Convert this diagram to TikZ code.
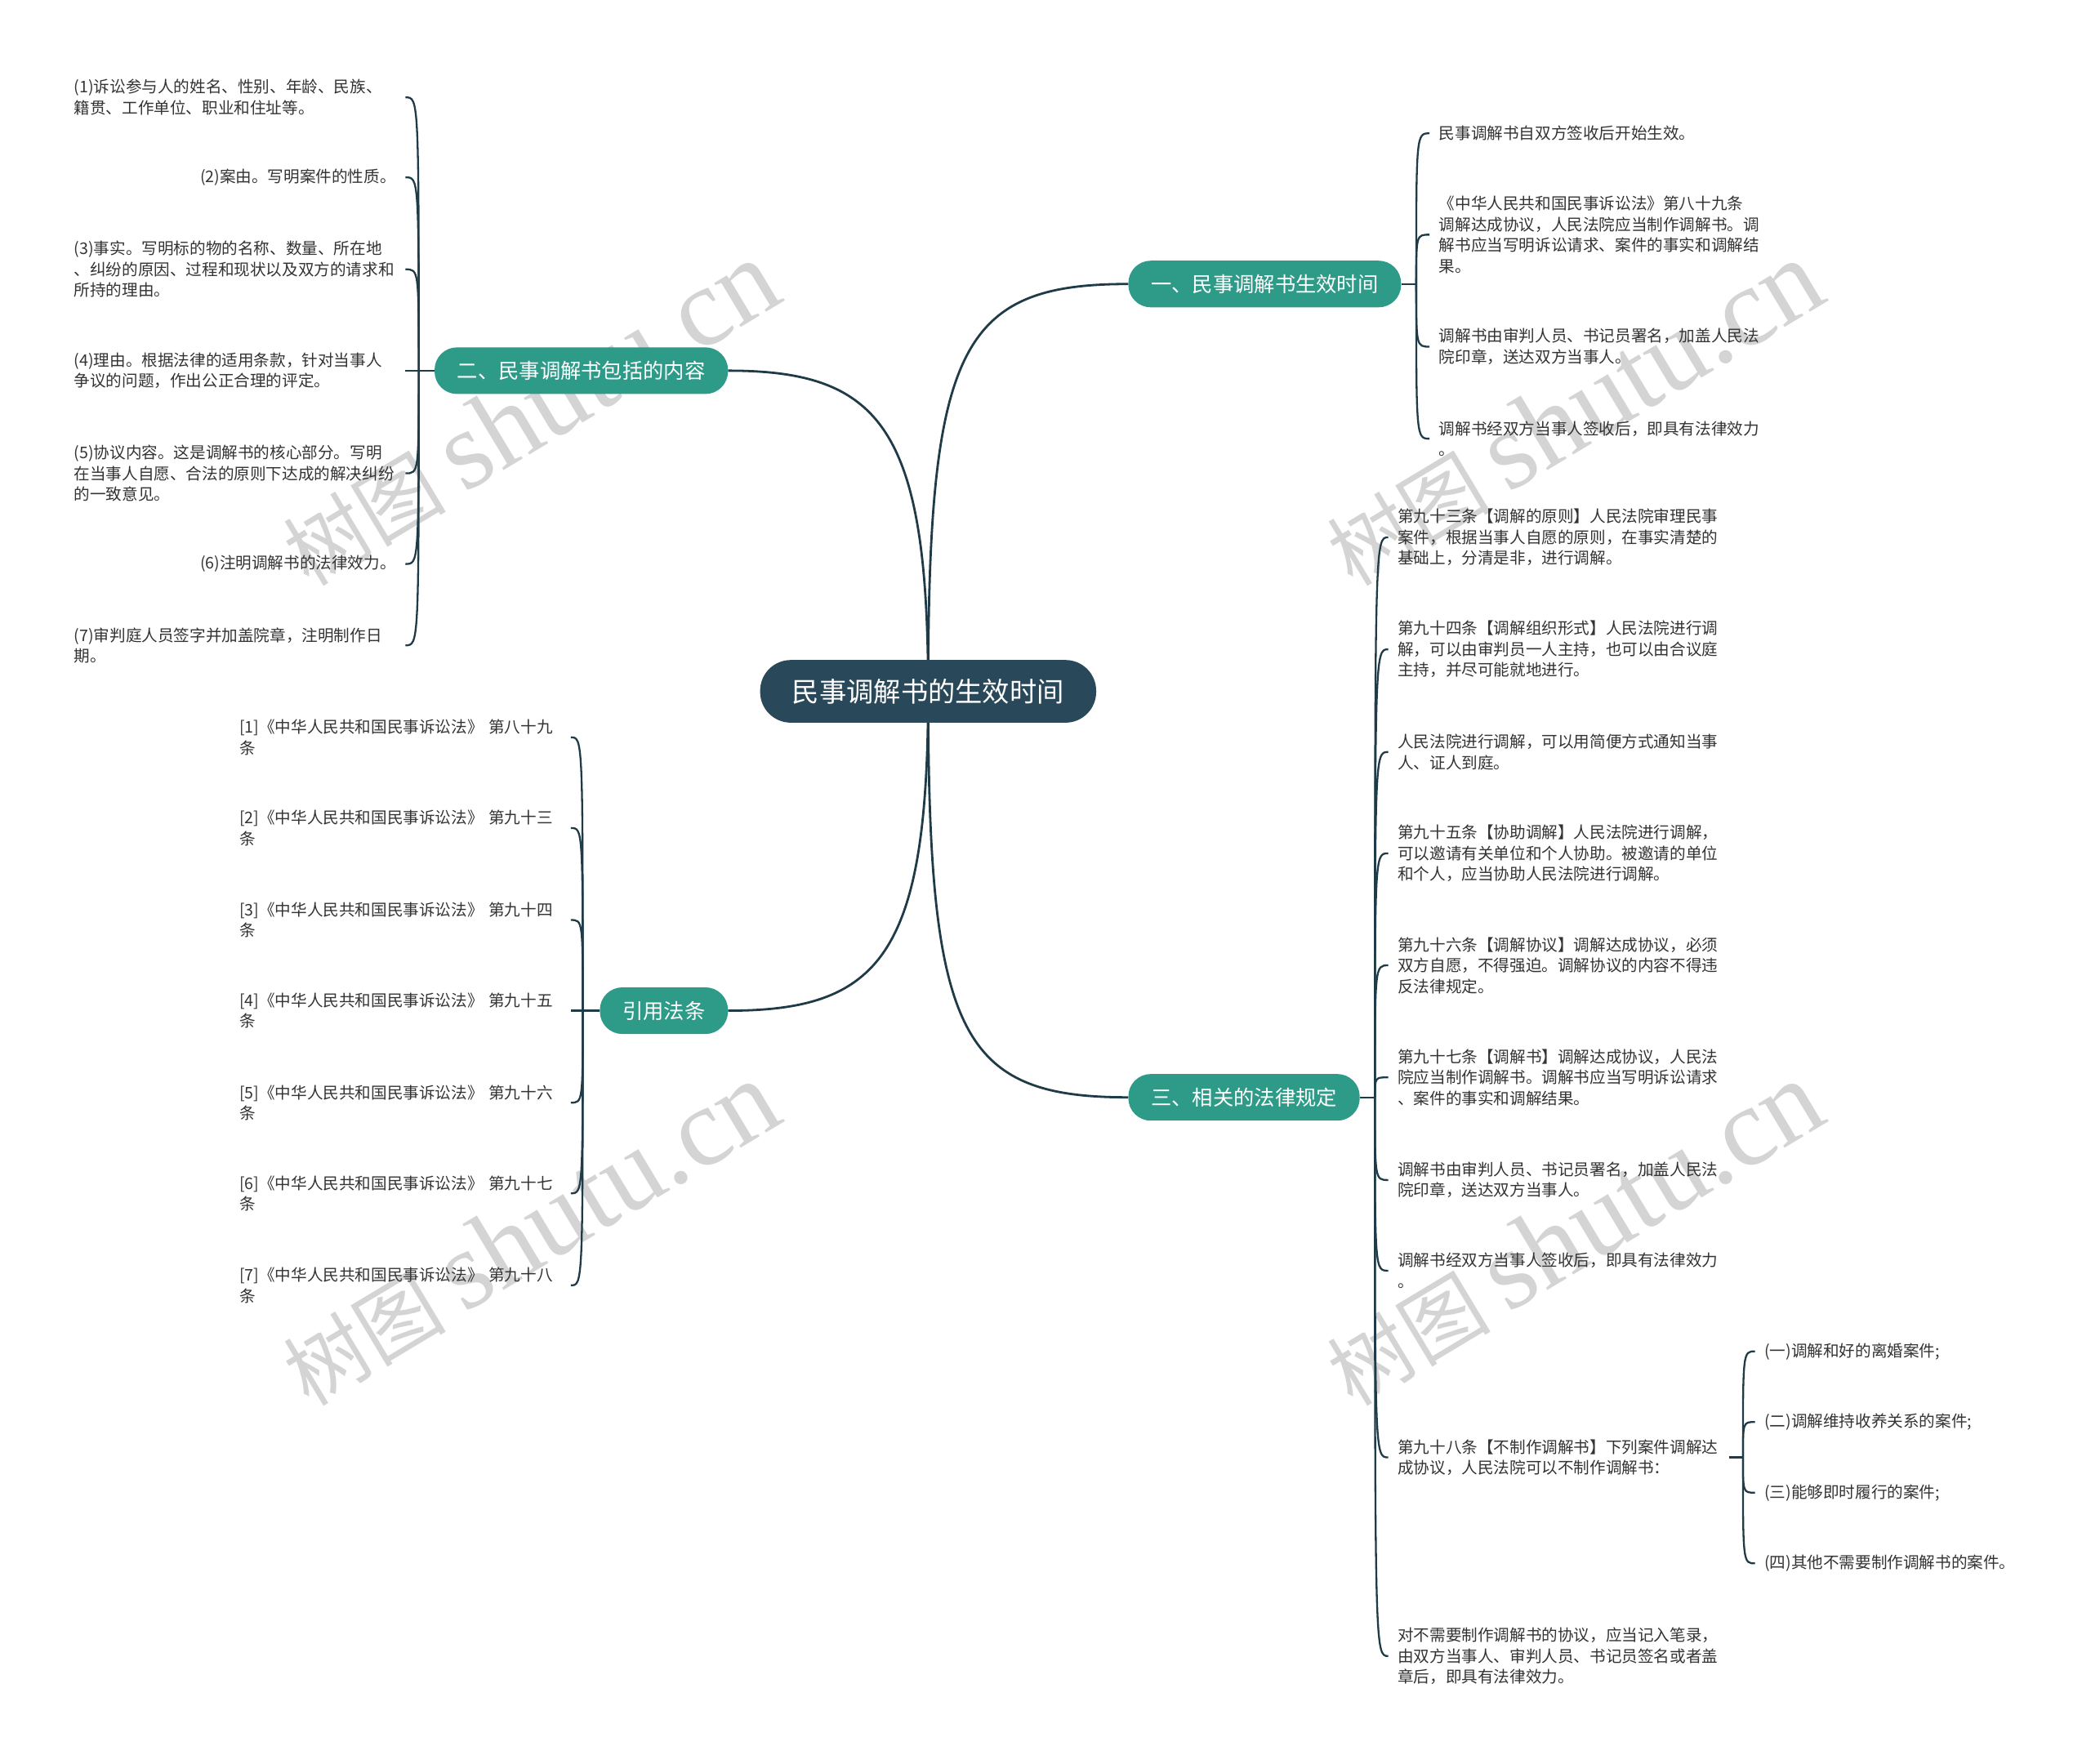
\documentclass[tikz,border=0pt]{standalone}
\usepackage{fontspec}
\setmainfont{Noto Sans CJK SC}
\newfontfamily\wmserif{Liberation Serif}
\usetikzlibrary{backgrounds}
\pgfdeclarelayer{bottom}
\pgfsetlayers{bottom,background,main}
\definecolor{linec}{HTML}{1F3B48}
\definecolor{rootc}{HTML}{29495A}
\definecolor{brc}{HTML}{2D9B88}
\definecolor{leaftext}{HTML}{333333}
\definecolor{wmc}{HTML}{D4D4D4}
\newcommand\leaffont{\fontsize{19.6pt}{25.5pt}\selectfont}
\newcommand\branchfont{\fontsize{25.3pt}{30pt}\selectfont}
\newcommand\rootfont{\fontsize{33.3pt}{40pt}\selectfont}
\newcommand\wmtext{{\fontsize{100pt}{100pt}\selectfont 树图}\hspace{22pt}{\wmserif\fontsize{137pt}{137pt}\selectfont shutu.cn}}
\tikzset{
  leafR/.style={anchor=west, align=left, text width=394pt, inner xsep=11.4pt, inner ysep=0pt, font=\leaffont, text=leaftext},
  leafL/.style={anchor=east, align=left, text width=394pt, inner xsep=11.4pt, inner ysep=0pt, font=\leaffont, text=leaftext},
  leafS/.style={anchor=east, inner xsep=11.4pt, inner ysep=0pt, font=\leaffont, text=leaftext},
  leafE/.style={anchor=west, inner xsep=11.4pt, inner ysep=0pt, font=\leaffont, text=leaftext},
  branchbox/.style={fill=brc, text=white, rounded corners=27.5pt, minimum height=57.1pt, inner xsep=27.8pt, inner ysep=0pt, font=\branchfont},
  rootbox/.style={fill=rootc, text=white, rounded corners=37.5pt, minimum height=76.7pt, inner xsep=39.2pt, inner ysep=0pt, font=\rootfont},
  conn/.style={draw=linec, line width=2.3pt},
  mainconn/.style={draw=linec, line width=2.8pt},
  wmstyle/.style={text=wmc, inner sep=0pt, rotate=31}
}
\begin{document}
\begin{tikzpicture}[x=1.6327pt, y=-1.6327pt]
\path[use as bounding box] (0,0) rectangle (1568,1323);
\begin{pgfonlayer}{bottom}
\fill[white] (0,0) rectangle (1568,1323);
\end{pgfonlayer}

% root and branches
\node[rootbox] (root) at (696,518.5) {民事调解书的生效时间};
\node[branchbox, anchor=west] (n1) at (846,213) {一、民事调解书生效时间};
\node[branchbox, anchor=east] (n2) at (546,278) {二、民事调解书包括的内容};
\node[branchbox, anchor=west] (n3) at (846,823) {三、相关的法律规定};
\node[branchbox, anchor=east] (n4) at (546,758) {引用法条};

\coordinate (J1) at (1062,213);
\coordinate (J2) at (314,278);
\coordinate (J3) at (1031,823);
\coordinate (J4) at (437,758);
\coordinate (J9) at (1307,1093);

% branch 1 leaves
\node[leafR] (a1) at (1072,100) {民事调解书自双方签收后开始生效。};
\node[leafR] (a2) at (1072,176) {《中华人民共和国民事诉讼法》第八十九条\\调解达成协议，人民法院应当制作调解书。调\\解书应当写明诉讼请求、案件的事实和调解结\\果。};
\node[leafR] (a3) at (1072,260) {调解书由审判人员、书记员署名，加盖人民法\\院印章，送达双方当事人。};
\node[leafR] (a4) at (1072,329) {调解书经双方当事人签收后，即具有法律效力\\。};

% branch 2 leaves
\node[leafL] (b1) at (304,73) {(1)诉讼参与人的姓名、性别、年龄、民族、\\籍贯、工作单位、职业和住址等。};
\node[leafS] (b2) at (304,133) {(2)案由。写明案件的性质。};
\node[leafL] (b3) at (304,202) {(3)事实。写明标的物的名称、数量、所在地\\、纠纷的原因、过程和现状以及双方的请求和\\所持的理由。};
\node[leafL] (b4) at (304,278) {(4)理由。根据法律的适用条款，针对当事人\\争议的问题，作出公正合理的评定。};
\node[leafL] (b5) at (304,355) {(5)协议内容。这是调解书的核心部分。写明\\在当事人自愿、合法的原则下达成的解决纠纷\\的一致意见。};
\node[leafS] (b6) at (304,423) {(6)注明调解书的法律效力。};
\node[leafL] (b7) at (304,484) {(7)审判庭人员签字并加盖院章，注明制作日\\期。};

% citation leaves
\node[leafL] (r1) at (428,553) {[1]《中华人民共和国民事诉讼法》 第八十九\\条};
\node[leafL] (r2) at (428,621) {[2]《中华人民共和国民事诉讼法》 第九十三\\条};
\node[leafL] (r3) at (428,690) {[3]《中华人民共和国民事诉讼法》 第九十四\\条};
\node[leafL] (r4) at (428,758) {[4]《中华人民共和国民事诉讼法》 第九十五\\条};
\node[leafL] (r5) at (428,827) {[5]《中华人民共和国民事诉讼法》 第九十六\\条};
\node[leafL] (r6) at (428,895) {[6]《中华人民共和国民事诉讼法》 第九十七\\条};
\node[leafL] (r7) at (428,964) {[7]《中华人民共和国民事诉讼法》 第九十八\\条};

% branch 3 leaves
\node[leafR] (d1) at (1041,403) {第九十三条【调解的原则】人民法院审理民事\\案件，根据当事人自愿的原则，在事实清楚的\\基础上，分清是非，进行调解。};
\node[leafR] (d2) at (1041,487) {第九十四条【调解组织形式】人民法院进行调\\解，可以由审判员一人主持，也可以由合议庭\\主持，并尽可能就地进行。};
\node[leafR] (d3) at (1041,564) {人民法院进行调解，可以用简便方式通知当事\\人、证人到庭。};
\node[leafR] (d4) at (1041,640) {第九十五条【协助调解】人民法院进行调解，\\可以邀请有关单位和个人协助。被邀请的单位\\和个人，应当协助人民法院进行调解。};
\node[leafR] (d5) at (1041,724) {第九十六条【调解协议】调解达成协议，必须\\双方自愿，不得强迫。调解协议的内容不得违\\反法律规定。};
\node[leafR] (d6) at (1041,808) {第九十七条【调解书】调解达成协议，人民法\\院应当制作调解书。调解书应当写明诉讼请求\\、案件的事实和调解结果。};
\node[leafR] (d7) at (1041,885) {调解书由审判人员、书记员署名，加盖人民法\\院印章，送达双方当事人。};
\node[leafR] (d8) at (1041,953) {调解书经双方当事人签收后，即具有法律效力\\。};
\node[leafR] (d9) at (1041,1093) {第九十八条【不制作调解书】下列案件调解达\\成协议，人民法院可以不制作调解书：};
\node[leafR] (d10) at (1041,1242) {对不需要制作调解书的协议，应当记入笔录，\\由双方当事人、审判人员、书记员签名或者盖\\章后，即具有法律效力。};

\node[leafE] (e1) at (1316,1013.5) {(一)调解和好的离婚案件;};
\node[leafE] (e2) at (1316,1066.5) {(二)调解维持收养关系的案件;};
\node[leafE] (e3) at (1316,1119.5) {(三)能够即时履行的案件;};
\node[leafE] (e4) at (1316,1172.5) {(四)其他不需要制作调解书的案件。};

\begin{pgfonlayer}{background}
% watermarks
\node[wmstyle] (wm1) at (397,310) {\wmtext};
\node[wmstyle] (wm2) at (1180,310) {\wmtext};
\node[wmstyle] (wm3) at (397,925) {\wmtext};
\node[wmstyle] (wm4) at (1180,925) {\wmtext};

% main connectors
\draw[mainconn] (root.center) .. controls +(0,-258) and +(-126,0) .. (n1.west);
\draw[mainconn] (root.center) .. controls +(0,-198) and +(114,0) .. (n2.east);
\draw[mainconn] (root.center) .. controls +(0,258) and +(-126,0) .. (n3.west);
\draw[mainconn] (root.center) .. controls +(0,198) and +(114,0) .. (n4.east);

% branch 1
\draw[conn] (n1.east) -- (J1);
\foreach \c in {a1,a2,a3,a4} \draw[conn] (J1) .. controls (J1 |- \c.west) .. (\c.west);
% branch 2
\draw[conn] (n2.west) -- (J2);
\foreach \c in {b1,b2,b3,b5,b6,b7} \draw[conn] (J2) .. controls (J2 |- \c.east) .. (\c.east);
\draw[conn] (J2) -- (b4.east);
% citations
\draw[conn] (n4.west) -- (J4);
\foreach \c in {r1,r2,r3,r5,r6,r7} \draw[conn] (J4) .. controls (J4 |- \c.east) .. (\c.east);
\draw[conn] (J4) -- (r4.east);
% branch 3
\draw[conn] (n3.east) -- (J3);
\foreach \c in {d1,d2,d3,d4,d5,d6,d7,d8,d9,d10} \draw[conn] (J3) .. controls (J3 |- \c.west) .. (\c.west);
% sub-branch
\draw[conn] (d9.east) -- (J9);
\foreach \c in {e1,e2,e3,e4} \draw[conn] (J9) .. controls (J9 |- \c.west) .. (\c.west);
\end{pgfonlayer}
\end{tikzpicture}
\end{document}
